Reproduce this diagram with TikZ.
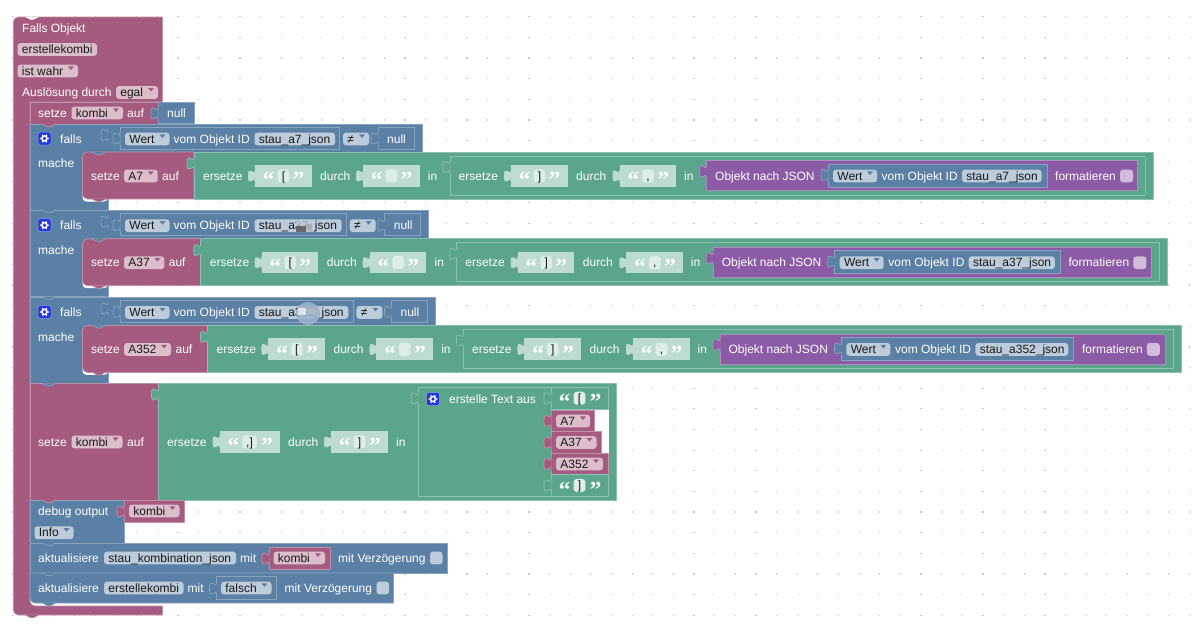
\documentclass[tikz,border=0pt]{standalone}
\usepackage{fontspec}
\setmainfont{Liberation Sans}
\newfontfamily\quotefont{Liberation Serif}

\definecolor{pinkb}{HTML}{A55B80}
\definecolor{pinkl}{HTML}{C08FA8}
\definecolor{pinkf}{HTML}{DBBDCC}
\definecolor{blueb}{HTML}{5B80A5}
\definecolor{bluel}{HTML}{86A3C0}
\definecolor{bluef}{HTML}{BDCCDB}
\definecolor{greenb}{HTML}{5BA58C}
\definecolor{greenl}{HTML}{8CC1AF}
\definecolor{greenf}{HTML}{BDDBD1}
\definecolor{purpb}{HTML}{8C5BA5}
\definecolor{purpl}{HTML}{AF8CC0}
\definecolor{purpf}{HTML}{D1BDDB}
\definecolor{gearb}{HTML}{2238DC}

\tikzset{
    pinkblk/.style={fill=pinkb,draw=pinkl,line width=0.7pt},
    blueblk/.style={fill=blueb,draw=bluel,line width=0.7pt},
    greenblk/.style={fill=greenb,draw=greenl,line width=0.7pt},
    purpblk/.style={fill=purpb,draw=purpl,line width=0.7pt},
    lbl/.style={anchor=base west,inner sep=0pt,text=white,font=\fontsize{12}{14}\selectfont},
    ftxt/.style={lbl,text=black!90},
    tabpic/.pic={
        \path[pic actions,draw=none] (0,0) .. controls (0,8.7) and (-7,-7) .. (-7,6.5) .. controls (-7,20) and (0,4.3) .. (0,13) -- (0.7,13) -- (0.7,0) -- cycle;
        \path[pic actions,fill=none] (0,0) .. controls (0,8.7) and (-7,-7) .. (-7,6.5) .. controls (-7,20) and (0,4.3) .. (0,13);
    },
    bumppic/.pic={\path[pic actions] (0,0) .. controls (3,0) and (3,2.8) .. (7,2.8) .. controls (11,2.8) and (11,0) .. (14,0);},
    gearpic/.pic={
        \draw[fill=gearb,draw=bluef!70!gearb,line width=0.5pt,rounded corners=2.5] (0,0) rectangle (13,13);
        \foreach \a in {0,60,...,300} {
            \fill[white] ([shift={(\a:3.7)}]6.5,6.5) circle (0.9);
        }
        \fill[white] (6.5,6.5) circle (3.4);
        \fill[gearb] (6.5,6.5) circle (1.9);
    }
}

% field with text: name, colour, x1, x2, y, text
\newcommand{\field}[6]{
    \path[fill=#2,rounded corners=3] (#3,#5-6.4) rectangle (#4,#5+6.4);
    \node[ftxt] (#1) at ({#3+4.2},{#5+4.2}) {#6};
}
% same with the small arrow: last one is the arrow colour
\newcommand{\dropf}[7]{
    \field{#1}{#2}{#3}{#4}{#5}{#6}
    \fill[#7] ({#4-10},{#5-4.6}) -- ({#4-4},{#5-4.6}) -- ({#4-7},{#5-1}) -- cycle;
}
% text block: name, x, y top, inner width, text, block style, width
\newcommand{\strblk}[7]{
    \path[#6] (#2,#3) rectangle ({#2+#7},{#3+21.7});
    \pic[#6] at (#2,#3+4.5) {tabpic};
    \node[lbl,font=\quotefont\bfseries\fontsize{23}{23}\selectfont,anchor=base] (#1l) at ({#2+13.7},{#3+22.6}) {“};
    \path[fill=white!50!greenf,rounded corners=3] ({#2+22.7},{#3+4.4}) rectangle ({#2+22.7+#4},{#3+17.4});
    \node[ftxt,anchor=base] (#1) at ({#2+22.7+#4/2},{#3+15.2}) {#5};
    \node[lbl,font=\quotefont\bfseries\fontsize{23}{23}\selectfont,anchor=base] (#1r) at ({#2+#7-13},{#3+22.6}) {”};
}

\begin{document}
\begin{tikzpicture}[x=1pt,y=-1pt]
    \useasboundingbox (0,0) rectangle (1200,633);

    % dots of the workspace
    \foreach \r in {0,...,29} {
        \foreach \c in {0,...,57} {
            \fill[black!22] ({12.9+20.64*\c-0.6},{16.7+20.64*\r-0.6}) rectangle ++(1.2,1.2);
        }
    }

    % outer block
    \draw[pinkblk] (162.5,17) -- (162.5,102) -- (30,102) [rounded corners=5] -- (30,606) [sharp corners] -- (162.5,606) -- (162.5,615) [rounded corners=5] -- (13.3,615) -- (13.3,17) [sharp corners] -- cycle;
    \pic[fill=white] at (25,17) {bumppic};
    \pic[pinkblk] at (25,615) {bumppic};
    \node[lbl] (obj) at (22,32.2) {Falls Objekt};
    \field{erst}{pinkf}{17.5}{97}{49.5}{erstellekombi}
    \dropf{wahr}{pinkf}{17.5}{78}{71}{ist wahr}{pinkb}
    \node[lbl] (ausl) at (22,96.8) {Auslösung durch};
    \dropf{egal}{pinkf}{116}{158}{92.5}{egal}{pinkb}

    % setze kombi auf null
    \draw[pinkblk] (30,102) rectangle (158,124);
    \draw[blueblk] (158,102) rectangle (194,123);
    \pic[blueblk] at (158,107) {tabpic};
    \node[lbl] (setz) at (38,117.2) {setze};
    \dropf{komb}{pinkf}{71.5}{123}{113}{kombi}{pinkb}
    \node[lbl] (auf) at (127,117.2) {auf};
    \node[lbl] (null) at (167,117.2) {null};

    % the three blocks with falls
    \foreach \i/\sfx/\nm in {0/a7/A7, 1/a37/A37, 2/a352/A352} {
        \pgfmathsetmacro{\dy}{\i*86.7}
        \pgfmathsetmacro{\dw}{\i*6.7}
        \begin{scope}[shift={(0,\dy)}]
            \draw[blueblk] (30,124) -- ({422+\dw},124) -- ({422+\dw},152) -- (108,152) -- (108,210) -- (30,210) -- cycle;
            \pic at (38,132) {gearpic};
            \node[lbl] (falls\i) at (60,143.2) {falls};
            \node[lbl] (mach\i) at (38,167.7) {mache};
            \pic[blueblk] at (108,128.5) {tabpic};

            \draw[blueblk] (120,127) rectangle ({339.5+\dw},149);
            \pic[blueblk] at (120,132) {tabpic};
            \dropf{wert\i}{bluef}{125}{169.5}{139}{Wert}{blueb}
            \node[lbl] (vom\i) at (173.5,143.2) {vom Objekt ID};
            \field{stau\i}{bluef}{254.5}{335+\dw}{139}{stau\_\sfx\_json}
            \dropf{ne\i}{bluef}{343+\dw}{369+\dw}{139}{≠}{blueb}
            \draw[blueblk] ({378+\dw},127) rectangle ({414+\dw},149);
            \pic[blueblk] at ({378+\dw},132) {tabpic};
            \node[lbl] (nul\i) at ({387+\dw},143.2) {null};

            \fill[white,rounded corners=4] (82.5,190) rectangle (108,201.5);
            \draw[pinkblk] ({194+\dw},152) -- ({194+\dw},199) [rounded corners=5] -- (82.5,199) -- (82.5,152) [sharp corners] -- cycle;
            \pic[blueblk] at (92,152) {bumppic};
            \pic[pinkblk] at (92,199) {bumppic};
            \node[lbl] (sz\i) at (91,180.2) {setze};
            \dropf{var\i}{pinkf}{124}{157.7+\dw}{176}{\nm}{pinkb}
            \node[lbl] (af\i) at ({162+\dw},180.2) {auf};

            \draw[greenblk] ({194+\dw},152) rectangle ({1153+2.1*\dw},199);
            \pic[greenblk] at ({194+\dw},157) {tabpic};

            \begin{scope}[shift={(\dw,0)}]
                \node[lbl] (ers\i) at (203,180.2) {ersetze};
                \strblk{oa\i}{255}{165}{11.6}{[}{fill=greenf}{56.7}
                \node[lbl] (dur\i) at (320,180.2) {durch};
                \strblk{ob\i}{363}{165}{11.6}{}{fill=greenf}{56.7}
                \node[lbl] (in\i) at (427.7,180.2) {in};

                \draw[greenblk] (450,156) rectangle ({1145+1.1*\dw},195);
                \pic[greenblk] at (450,160.5) {tabpic};
                \node[lbl] (ert\i) at (458.5,180.2) {ersetze};
                \strblk{ua\i}{511}{165}{11.6}{]}{fill=greenf}{56.7}
                \node[lbl] (dus\i) at (576,180.2) {durch};
                \strblk{ub\i}{619.6}{165}{11.6}{,}{fill=greenf}{56.7}
                \node[lbl] (io\i) at (684,180.2) {in};

                \draw[purpblk] (706.5,160.7) rectangle ({1137+1.1*\dw},190.7);
                \pic[purpblk] at (706.5,165) {tabpic};
                \node[lbl] (obn\i) at (715,180.2) {Objekt nach JSON};
                \draw[blueblk] (828,164) rectangle ({1047+\dw},187);
                \pic[blueblk] at (828,168.5) {tabpic};
                \dropf{wrt\i}{bluef}{833}{877}{176}{Wert}{blueb}
                \node[lbl] (vob\i) at (881.5,180.2) {vom Objekt ID};
                \field{stb\i}{bluef}{962}{1041.5+\dw}{176}{stau\_\sfx\_json}
                \node[lbl] (fmt\i) at ({1055+\dw},180.2) {formatieren};
                \path[fill=purpf,rounded corners=3] ({1120+\dw},169.6) rectangle ({1133+\dw},182.4);
            \end{scope}
        \end{scope}
    }

    % smudges over the two names
    \fill[bluef,opacity=0.8] (296,220) rectangle (314,232);
    \fill[black!65,opacity=0.85] (296,226) rectangle (306,232);
    \fill[black!40,opacity=0.6] (306,224) rectangle (312,230);
    \fill[bluel!60!bluef,opacity=0.9] (308,313.5) ellipse (12 and 11.5);
    \fill[white!75!bluef,opacity=0.8] (298,308) rectangle (306,315);
    \fill[black!25,opacity=0.6] (308,308) rectangle (315,314);

    % setze kombi auf ersetze
    \draw[pinkblk] (30,383.5) rectangle (158.5,500);
    \node[lbl] (bsz) at (38,446.2) {setze};
    \dropf{bkom}{pinkf}{71.5}{122.5}{442}{kombi}{pinkb}
    \node[lbl] (baf) at (127,446.2) {auf};
    \draw[greenblk] (158.5,383.5) rectangle (616,500);
    \pic[greenblk] at (158.5,388) {tabpic};
    \node[lbl] (bers) at (167,446.2) {ersetze};
    \strblk{bsa}{219.6}{431}{14.5}{,]}{fill=greenf}{60.4}
    \node[lbl] (bdur) at (288,446.2) {durch};
    \strblk{bsb}{331}{431}{11.6}{]}{fill=greenf}{57}
    \node[lbl] (bin) at (396,446.2) {in};

    \draw[greenblk] (418,387) rectangle (608.5,496);
    \pic[greenblk] at (418,392) {tabpic};
    \pic at (426.5,392.5) {gearpic};
    \node[lbl] (etxt) at (449,403.2) {erstelle Text aus};
    \draw[greenl,line width=0.7pt] (551,387) -- (551,496);
    \strblk{ta}{551}{387.3}{11.6}{[}{greenblk}{57.5}
    \fill[white] (594,409.5) rectangle (609,431);
    \fill[white] (601,431) rectangle (609,453);
    \foreach \y/\r/\f/\nm in {410/594/590/A7, 431.5/601/596.5/A37, 453/608.5/603/A352} {
        \draw[pinkblk] (551,\y) rectangle (\r,\y+21.5);
        \pic[pinkblk] at (551,\y+4.5) {tabpic};
        \dropf{t\nm}{pinkf}{556}{\f}{\y+11}{\nm}{pinkb}
    }
    \strblk{tb}{551}{474.5}{11.6}{]}{greenblk}{57.5}

    % debug output
    \draw[blueblk] (30,500) rectangle (124,543);
    \node[lbl] (deb) at (38,515.2) {debug output};
    \draw[pinkblk] (124,500) rectangle (184,522);
    \pic[pinkblk] at (124,505) {tabpic};
    \dropf{dkom}{pinkf}{129}{179.5}{511}{kombi}{pinkb}
    \dropf{info}{bluef}{34.5}{73.5}{532.7}{Info}{blueb}

    % the two aktualisiere blocks
    \draw[blueblk] (30,543) rectangle (447,573);
    \node[lbl] (akta) at (38,562.2) {aktualisiere};
    \field{skj}{bluef}{104}{236}{558}{stau\_kombination\_json}
    \node[lbl] (mita) at (240,562.2) {mit};
    \draw[pinkblk] (269,547) rectangle (330,569);
    \pic[pinkblk] at (269,552) {tabpic};
    \dropf{akom}{pinkf}{273.5}{325}{558}{kombi}{pinkb}
    \node[lbl] (vera) at (338,562.2) {mit Verzögerung};
    \path[fill=bluef,rounded corners=3] (430,551.6) rectangle (442.5,564.4);

    \draw[blueblk] (393.5,573) -- (393.5,603) [rounded corners=5] -- (30,603) [sharp corners] -- (30,573) -- cycle;
    \node[lbl] (aktb) at (38,592.2) {aktualisiere};
    \field{ekb}{bluef}{104}{183.5}{588}{erstellekombi}
    \node[lbl] (mitb) at (187.5,592.2) {mit};
    \draw[blueblk] (216.5,576) rectangle (276.5,599);
    \pic[blueblk] at (216.5,582) {tabpic};
    \dropf{fal}{bluef}{221}{271.5}{588}{falsch}{blueb}
    \node[lbl] (verb) at (284.5,592.2) {mit Verzögerung};
    \path[fill=bluef,rounded corners=3] (376.5,581.6) rectangle (389,594.4);

    % small bumps, last because the next block would hide them
    \foreach \x/\y/\s in {42/124/pinkblk, 42/210/blueblk, 42/296.7/blueblk, 42/383.4/blueblk, 42/500/pinkblk, 42/543/blueblk, 42/573/blueblk, 42/603/blueblk} {
        \pic[\s] at (\x,\y) {bumppic};
    }
\end{tikzpicture}
\end{document}
